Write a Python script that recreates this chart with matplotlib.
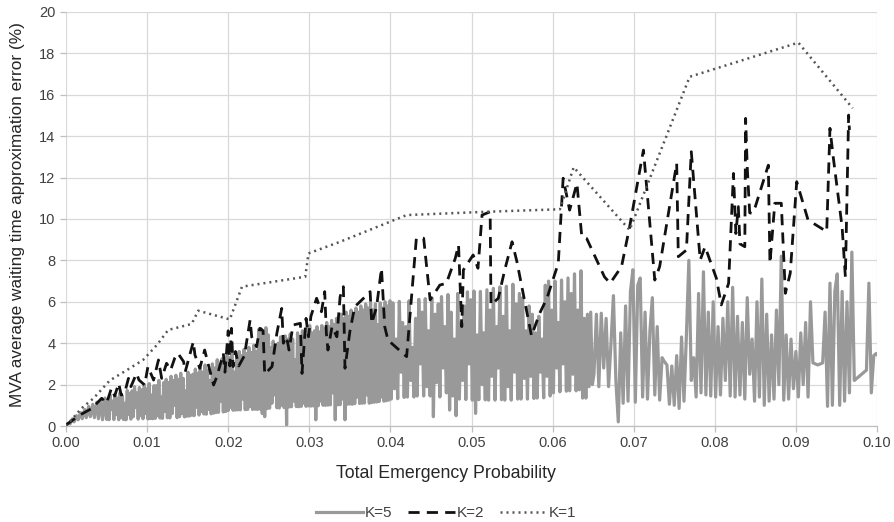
import matplotlib
matplotlib.use("Agg")
import matplotlib.pyplot as plt

plt.rcParams['font.family'] = ['Liberation Sans', 'DejaVu Sans']

# ---------------- data ----------------
k5_x = [
    # 0.000 - 0.005
    0.0000, 0.0003, 0.0005, 0.0008, 0.0010, 0.0013, 0.0015, 0.0018, 0.0020, 0.0023,
    0.0025, 0.0028, 0.0030, 0.0033, 0.0035, 0.0038, 0.0040, 0.0043, 0.0045, 0.0048,
    # 0.005 - 0.040
    0.00500, 0.00515, 0.00530, 0.00545, 0.00560, 0.00575, 0.00590, 0.00605, 0.00620, 0.00635,
    0.00650, 0.00665, 0.00680, 0.00695, 0.00710, 0.00725, 0.00740, 0.00755, 0.00770, 0.00785,
    0.00800, 0.00815, 0.00830, 0.00845, 0.00860, 0.00875, 0.00890, 0.00905, 0.00920, 0.00935,
    0.00950, 0.00965, 0.00980, 0.00995, 0.01010, 0.01025, 0.01040, 0.01055, 0.01070, 0.01085,
    0.01100, 0.01115, 0.01130, 0.01145, 0.01160, 0.01175, 0.01190, 0.01205, 0.01220, 0.01235,
    0.01250, 0.01265, 0.01280, 0.01295, 0.01310, 0.01325, 0.01340, 0.01355, 0.01370, 0.01385,
    0.01400, 0.01415, 0.01430, 0.01445, 0.01460, 0.01475, 0.01490, 0.01505, 0.01520, 0.01535,
    0.01550, 0.01565, 0.01580, 0.01595, 0.01610, 0.01625, 0.01640, 0.01655, 0.01670, 0.01685,
    0.01700, 0.01715, 0.01730, 0.01745, 0.01760, 0.01775, 0.01790, 0.01805, 0.01820, 0.01835,
    0.01850, 0.01865, 0.01880, 0.01895, 0.01910, 0.01925, 0.01940, 0.01955, 0.01970, 0.01985,
    0.02000, 0.02015, 0.02030, 0.02045, 0.02060, 0.02075, 0.02090, 0.02105, 0.02120, 0.02135,
    0.02150, 0.02165, 0.02180, 0.02195, 0.02210, 0.02225, 0.02240, 0.02255, 0.02270, 0.02285,
    0.02300, 0.02315, 0.02330, 0.02345, 0.02360, 0.02375, 0.02390, 0.02405, 0.02420, 0.02435,
    0.02450, 0.02465, 0.02480, 0.02495, 0.02510, 0.02525, 0.02540, 0.02555, 0.02570, 0.02585,
    0.02600, 0.02615, 0.02630, 0.02645, 0.02660, 0.02675, 0.02690, 0.02705, 0.02720, 0.02735,
    0.02750, 0.02765, 0.02780, 0.02795, 0.02810, 0.02825, 0.02840, 0.02855, 0.02870, 0.02885,
    0.02900, 0.02915, 0.02930, 0.02945, 0.02960, 0.02975, 0.02990, 0.03005, 0.03020, 0.03035,
    0.03050, 0.03065, 0.03080, 0.03095, 0.03110, 0.03125, 0.03140, 0.03155, 0.03170, 0.03185,
    0.03200, 0.03215, 0.03230, 0.03245, 0.03260, 0.03275, 0.03290, 0.03305, 0.03320, 0.03335,
    0.03350, 0.03365, 0.03380, 0.03395, 0.03410, 0.03425, 0.03440, 0.03455, 0.03470, 0.03485,
    0.03500, 0.03515, 0.03530, 0.03545, 0.03560, 0.03575, 0.03590, 0.03605, 0.03620, 0.03635,
    0.03650, 0.03665, 0.03680, 0.03695, 0.03710, 0.03725, 0.03740, 0.03755, 0.03770, 0.03785,
    0.03800, 0.03815, 0.03830, 0.03845, 0.03860, 0.03875, 0.03890, 0.03905, 0.03920, 0.03935,
    0.03950, 0.03965, 0.03980, 0.03995,
    # 0.040 - 0.065
    0.04010, 0.04030, 0.04050, 0.04070, 0.04090, 0.04110, 0.04130, 0.04150, 0.04170, 0.04190,
    0.04210, 0.04230, 0.04250, 0.04270, 0.04290, 0.04310, 0.04330, 0.04350, 0.04370, 0.04390,
    0.04410, 0.04430, 0.04450, 0.04470, 0.04490, 0.04510, 0.04530, 0.04550, 0.04570, 0.04590,
    0.04610, 0.04630, 0.04650, 0.04670, 0.04690, 0.04710, 0.04730, 0.04750, 0.04770, 0.04790,
    0.04810, 0.04830, 0.04850, 0.04870, 0.04890, 0.04910, 0.04930, 0.04950, 0.04970, 0.04990,
    0.05010, 0.05030, 0.05050, 0.05070, 0.05090, 0.05110, 0.05130, 0.05150, 0.05170, 0.05190,
    0.05210, 0.05230, 0.05250, 0.05270, 0.05290, 0.05310, 0.05330, 0.05350, 0.05370, 0.05390,
    0.05410, 0.05430, 0.05450, 0.05470, 0.05490, 0.05510, 0.05530, 0.05550, 0.05570, 0.05590,
    0.05610, 0.05630, 0.05650, 0.05670, 0.05690, 0.05710, 0.05730, 0.05750, 0.05770, 0.05790,
    0.05810, 0.05830, 0.05850, 0.05870, 0.05890, 0.05910, 0.05930, 0.05950, 0.05970, 0.05990,
    0.06010, 0.06030, 0.06050, 0.06070, 0.06090, 0.06110, 0.06130, 0.06150, 0.06170, 0.06190,
    0.06210, 0.06230, 0.06250, 0.06270, 0.06290, 0.06310, 0.06330, 0.06350, 0.06370, 0.06390,
    0.06410, 0.06430, 0.06450, 0.06470, 0.06490,
    # 0.065 - 0.100
    0.06510, 0.06540, 0.06570, 0.06600, 0.06630, 0.06660, 0.06690, 0.06720, 0.06750, 0.06780,
    0.06810, 0.06840, 0.06870, 0.06900, 0.06930, 0.06960, 0.06990, 0.07020, 0.07050, 0.07080,
    0.07110, 0.07140, 0.07170, 0.07200, 0.07230, 0.07260, 0.07290, 0.07320, 0.07350, 0.07380,
    0.07410, 0.07440, 0.07470, 0.07500, 0.07530, 0.07560, 0.07590, 0.07620, 0.07650, 0.07680,
    0.07710, 0.07740, 0.07770, 0.07800, 0.07830, 0.07860, 0.07890, 0.07920, 0.07950, 0.07980,
    0.08010, 0.08040, 0.08070, 0.08100, 0.08130, 0.08160, 0.08190, 0.08220, 0.08250, 0.08280,
    0.08310, 0.08340, 0.08370, 0.08400, 0.08430, 0.08460, 0.08490, 0.08520, 0.08550, 0.08580,
    0.08610, 0.08640, 0.08670, 0.08700, 0.08730, 0.08760, 0.08790, 0.08820, 0.08850, 0.08880,
    0.08910, 0.08940, 0.08970, 0.09000, 0.09030, 0.09060, 0.09090, 0.09120, 0.09150, 0.09180,
    0.09210, 0.09240, 0.09270, 0.09300, 0.09330, 0.09360, 0.09390, 0.09420, 0.09450, 0.09480,
    0.09510, 0.09540, 0.09570, 0.09600, 0.09630, 0.09660, 0.09690, 0.09720, 0.09750, 0.09780,
    0.09810, 0.09840, 0.09870, 0.09900, 0.09930, 0.09960, 0.09990, 0.10000,
]
k5_y = [
    # 0.000 - 0.005
    0.00, 0.15, 0.10, 0.35, 0.20, 0.50, 0.30, 0.65, 0.35, 0.80,
    0.40, 0.95, 0.45, 1.05, 0.40, 1.15, 0.35, 1.25, 0.30, 1.35,
    # 0.005 - 0.040
    0.32, 1.30, 0.30, 1.50, 0.80, 1.20, 0.31, 1.48, 0.55, 1.35,
    0.30, 1.60, 0.40, 1.45, 0.31, 1.10, 0.30, 1.72, 0.55, 1.58,
    0.33, 1.70, 0.45, 1.90, 0.90, 1.60, 0.33, 1.86, 0.50, 1.75,
    0.35, 2.00, 0.60, 1.80, 0.34, 2.05, 0.36, 1.50, 0.35, 1.95,
    0.37, 1.95, 0.50, 2.20, 0.38, 1.40, 0.37, 2.10, 0.70, 2.25,
    0.40, 2.10, 0.39, 2.40, 0.60, 2.20, 1.00, 2.45, 0.40, 2.25,
    0.45, 2.55, 0.60, 2.30, 0.44, 1.70, 0.47, 2.60, 0.48, 2.45,
    0.52, 2.50, 0.50, 2.75, 0.90, 2.55, 0.53, 2.80, 0.70, 2.60,
    0.58, 2.95, 0.57, 2.70, 0.80, 2.20, 0.59, 3.00, 0.62, 2.80,
    0.65, 3.20, 0.66, 2.90, 1.20, 3.25, 0.68, 3.00, 0.70, 3.40,
    0.75, 3.30, 0.90, 3.55, 0.76, 2.60, 0.77, 3.45, 0.78, 3.60,
    0.78, 3.40, 1.30, 3.70, 0.79, 3.50, 0.80, 3.80, 0.95, 3.55,
    0.80, 3.90, 0.81, 3.60, 0.80, 4.65, 0.82, 4.70, 0.60, 4.50,
    0.45, 4.75, 0.84, 4.40, 0.86, 3.80, 1.10, 4.10, 1.50, 3.90,
    0.88, 4.00, 0.87, 4.30, 1.00, 4.10, 0.89, 4.35, 0.05, 4.20,
    0.92, 4.45, 0.93, 4.20, 1.20, 3.20, 0.94, 4.50, 0.93, 4.30,
    0.95, 4.60, 1.10, 4.40, 0.95, 4.80, 0.97, 4.85, 0.96, 4.50,
    0.97, 4.60, 0.30, 4.80, 0.98, 4.55, 1.20, 4.85, 1.00, 4.70,
    1.00, 5.00, 1.01, 4.80, 1.02, 5.10, 1.60, 4.90, 0.30, 5.20,
    1.02, 5.10, 1.03, 5.40, 1.30, 5.20, 0.30, 5.50, 1.05, 5.30,
    1.06, 5.60, 1.05, 5.40, 1.08, 5.70, 1.40, 5.50, 1.09, 5.80,
    1.10, 5.60, 1.11, 5.90, 1.50, 5.70, 1.10, 5.95, 1.13, 5.60,
    1.15, 5.90, 1.16, 4.90, 1.18, 5.95, 1.40, 5.70, 1.20, 6.00,
    1.22, 5.80, 1.25, 6.05,
    # 0.040 - 0.065
    1.30, 5.95, 1.80, 4.20, 1.32, 6.02, 2.60, 5.00, 1.38, 4.80,
    1.40, 6.05, 2.20, 3.80, 1.40, 5.20, 1.45, 6.12, 3.00, 5.50,
    1.45, 6.15, 1.90, 4.60, 1.45, 6.20, 0.45, 5.40, 2.10, 5.90,
    1.40, 6.25, 2.80, 4.80, 1.60, 6.35, 0.77, 5.50, 1.45, 4.20,
    0.50, 6.40, 1.30, 5.00, 2.20, 5.80, 1.28, 6.48, 3.00, 6.10,
    1.25, 6.52, 0.61, 4.40, 1.27, 6.50, 2.00, 4.50, 1.26, 6.58,
    1.25, 5.60, 2.40, 6.65, 1.25, 4.80, 2.80, 6.72, 1.27, 5.30,
    1.25, 6.75, 1.90, 4.60, 1.25, 6.85, 2.60, 5.90, 1.30, 6.40,
    1.30, 6.20, 2.30, 4.60, 1.30, 5.80, 2.40, 5.40, 1.33, 4.50,
    1.35, 5.30, 2.60, 4.20, 1.36, 6.80, 2.40, 7.00, 1.45, 5.60,
    1.60, 7.00, 2.80, 5.00, 1.65, 7.05, 3.00, 6.00, 1.68, 7.15,
    1.70, 6.40, 2.50, 7.35, 1.70, 5.60, 1.75, 7.50, 1.35, 5.20,
    1.35, 5.40, 1.90, 5.50, 2.00,
    # 0.065 - 0.100
    2.50, 5.40, 1.90, 5.45, 2.80, 5.20, 1.90, 4.00, 6.30, 2.20,
    0.20, 4.50, 1.10, 5.80, 1.20, 6.50, 7.55, 1.15, 6.80, 7.15,
    1.40, 5.50, 1.30, 4.60, 6.20, 1.50, 4.80, 1.25, 3.30, 3.10,
    2.95, 1.05, 2.90, 1.00, 3.40, 0.85, 4.30, 1.20, 4.40, 8.00,
    2.20, 3.30, 1.40, 6.40, 1.60, 7.45, 1.50, 5.50, 1.45, 6.00,
    1.40, 4.80, 1.50, 5.20, 2.20, 6.00, 1.45, 6.70, 1.40, 5.30,
    1.50, 5.00, 1.30, 6.20, 2.50, 4.20, 1.20, 6.00, 1.40, 7.10,
    1.00, 5.40, 1.20, 4.40, 1.30, 5.60, 2.00, 8.20, 1.25, 4.40,
    1.30, 4.20, 1.80, 3.60, 1.40, 4.50, 2.00, 5.00, 1.40, 6.00,
    3.05, 3.00, 2.95, 3.00, 3.05, 5.50, 0.95, 6.90, 1.00, 6.50,
    7.35, 1.00, 6.50, 1.20, 6.00, 1.60, 8.40, 2.20, 2.30, 2.40,
    2.50, 2.60, 2.70, 6.90, 1.60, 3.40, 3.50, 3.45,
]

k2_x = [
    0.0000, 0.0017, 0.0032, 0.0044, 0.0050, 0.0056, 0.0060, 0.0065, 0.0068, 0.0072,
    0.0077, 0.0080, 0.0087, 0.0090, 0.0097, 0.0101, 0.0108, 0.0114, 0.0118, 0.0124,
    0.0129, 0.0134, 0.0138, 0.0145, 0.0147, 0.0157, 0.0159, 0.0165, 0.0171, 0.0174,
    0.0182, 0.0186, 0.0194, 0.0196, 0.0200, 0.0202, 0.0204, 0.0206, 0.0209, 0.0213,
    0.0220, 0.0227, 0.0229, 0.0235, 0.0239, 0.0243, 0.0245, 0.0254, 0.0260, 0.0266,
    0.0268, 0.0272, 0.0275, 0.0280, 0.0289, 0.0291, 0.0296, 0.0299, 0.0302, 0.0309,
    0.0315, 0.0319, 0.0321, 0.0323, 0.0328, 0.0334, 0.0338, 0.0342, 0.0344, 0.0350,
    0.0356, 0.0369, 0.0375, 0.0377, 0.0383, 0.0389, 0.0393, 0.0397, 0.0420, 0.0432,
    0.0441, 0.0449, 0.0461, 0.0469, 0.0480, 0.0484, 0.0488, 0.0490, 0.0494, 0.0502,
    0.0508, 0.0513, 0.0523, 0.0524, 0.0533, 0.0541, 0.0550, 0.0556, 0.0574, 0.0584,
    0.0593, 0.0607, 0.0613, 0.0621, 0.0630, 0.0636, 0.0642, 0.0664, 0.0671, 0.0685,
    0.0695, 0.0712, 0.0726, 0.0732, 0.0753, 0.0755, 0.0765, 0.0771, 0.0782, 0.0788,
    0.0802, 0.0808, 0.0817, 0.0823, 0.0826, 0.0829, 0.0831, 0.0837, 0.0838, 0.0840,
    0.0843, 0.0846, 0.0850, 0.0866, 0.0868, 0.0874, 0.0882, 0.0887, 0.0893, 0.0901,
    0.0915, 0.0938, 0.0942, 0.0946, 0.0957, 0.0961, 0.0965, 0.0966,
]
k2_y = [
    0.05, 0.53, 0.85, 1.34, 1.10, 1.82, 1.45, 2.06, 1.50, 1.55,
    2.30, 1.90, 2.54, 2.22, 1.98, 2.87, 2.22, 3.19, 2.30, 3.03,
    2.70, 3.27, 3.51, 3.11, 2.62, 4.07, 3.43, 2.79, 3.67, 3.19,
    1.98, 2.38, 3.51, 2.60, 4.60, 2.90, 4.72, 2.87, 3.60, 2.90,
    3.40, 5.12, 4.30, 3.83, 4.72, 4.60, 2.50, 2.87, 4.48, 5.68,
    4.00, 4.31, 3.67, 4.88, 4.96, 2.54, 5.20, 4.31, 5.30, 6.17,
    5.52, 6.49, 4.50, 3.67, 4.80, 4.31, 6.25, 6.73, 2.79, 4.56,
    5.76, 6.25, 6.49, 4.96, 5.76, 7.62, 4.80, 4.15, 3.35, 9.07,
    9.07, 6.09, 6.81, 6.89, 8.10, 8.74, 4.80, 7.54, 7.78, 8.26,
    7.62, 10.19, 10.35, 5.85, 6.17, 7.54, 8.90, 7.94, 4.35, 5.44,
    6.17, 7.86, 11.97, 10.43, 11.72, 9.14, 9.06, 7.20, 6.90, 7.70,
    9.63, 13.33, 7.05, 7.70, 12.69, 8.18, 8.50, 13.25, 8.02, 8.66,
    7.13, 5.85, 6.89, 12.20, 9.30, 10.60, 8.80, 8.66, 14.86, 12.50,
    10.30, 10.27, 10.60, 12.60, 7.86, 10.76, 10.76, 6.41, 7.38, 11.80,
    9.95, 9.39, 14.38, 13.00, 9.60, 7.21, 15.02, 14.30,
]

k1_x = [0.0000, 0.0019, 0.0034, 0.0054, 0.0075, 0.0095, 0.0112, 0.0126, 0.0155, 0.0163,
        0.0202, 0.0217, 0.0295, 0.0299, 0.0338, 0.0420, 0.0519, 0.0609, 0.0626, 0.0695,
        0.0769, 0.0903, 0.0970]
k1_y = [0.00, 0.85, 1.34, 2.20, 2.70, 3.19, 3.91, 4.64, 4.93, 5.57,
        5.15, 6.73, 7.21, 8.34, 8.90, 10.19, 10.35, 10.47, 12.50, 9.47,
        16.87, 18.52, 15.35]

x_ticks = [0.00, 0.01, 0.02, 0.03, 0.04, 0.05, 0.06, 0.07, 0.08, 0.09, 0.10]
y_ticks = [0, 2, 4, 6, 8, 10, 12, 14, 16, 18, 20]
series_labels = ["K=5", "K=2", "K=1"]

# ---------------- figure ----------------
fig = plt.figure(figsize=(8.95, 5.22), dpi=100)
ax = fig.add_axes([66 / 895, 1 - 426 / 522, (877 - 66) / 895, (426 - 12) / 522])

ax.plot(k5_x, k5_y, color="#999999", lw=2.3, label=series_labels[0], zorder=3)
ax.plot(k2_x, k2_y, color="#111111", lw=2.0, dashes=(4, 2.6), label=series_labels[1], zorder=4)
ax.plot(k1_x, k1_y, color="#555555", lw=1.8, linestyle=(0, (0.8, 1.6)), label=series_labels[2], zorder=5)

ax.set_xlim(0, 0.10)
ax.set_ylim(0, 20)
ax.set_xticks(x_ticks)
ax.set_xticklabels([f"{v:.2f}" for v in x_ticks])
ax.set_yticks(y_ticks)
ax.set_yticklabels([str(v) for v in y_ticks])

ax.grid(True, color="#d9d9d9", lw=0.9, zorder=0)
ax.set_axisbelow(True)
for s in ["top", "right", "left"]:
    ax.spines[s].set_visible(False)
ax.spines["bottom"].set_color("#bfbfbf")
ax.spines["bottom"].set_linewidth(0.9)
ax.tick_params(axis="both", colors="#bfbfbf", labelcolor="#404040", labelsize=10.5, length=4, width=0.9)

ax.set_xlabel("Total Emergency Probability", fontsize=12.8, color="#262626")
ax.xaxis.label.set_va("center")
ax.xaxis.set_label_coords((446 - 66) / 811, (426 - 473) / 414)
ax.set_ylabel("MVA average waiting time approximation error (%)", fontsize=12.4, color="#262626")
ax.yaxis.label.set_va("center")
ax.yaxis.set_label_coords((18 - 66) / 811, (426 - 215) / 414)

leg = fig.legend(loc="center", bbox_to_anchor=(446 / 895, 1 - 513 / 522), ncol=3, frameon=False,
                 fontsize=11, handlelength=3.1, handletextpad=0.12, columnspacing=1.0,
                 borderpad=0.1)
for t in leg.get_texts():
    t.set_color("#404040")

fig.savefig("out.png", dpi=100)
